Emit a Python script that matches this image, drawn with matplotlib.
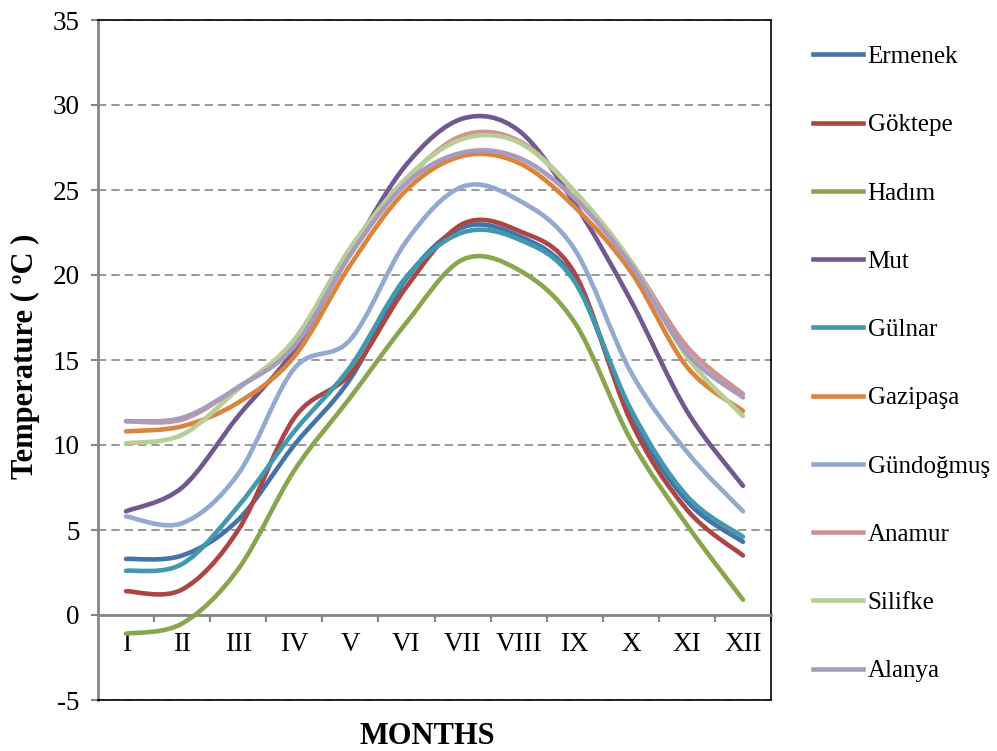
import matplotlib
matplotlib.use('Agg')
import matplotlib.pyplot as plt
from matplotlib.path import Path
from matplotlib.patches import PathPatch
from matplotlib.lines import Line2D
import numpy as np

plt.rcParams['font.family'] = ['Liberation Serif', 'DejaVu Serif']
plt.rcParams['axes.unicode_minus'] = False

meses = ['I', 'II', 'III', 'IV', 'V', 'VI', 'VII', 'VIII', 'IX', 'X', 'XI', 'XII']

ermenek   = [3.3, 3.5, 5.6, 10.0, 13.9, 19.8, 22.8, 22.3, 19.7, 11.8, 6.7, 4.3]
goktepe   = [1.4, 1.5, 5.0, 11.6, 14.2, 19.3, 23.0, 22.6, 20.1, 11.4, 6.2, 3.5]
hadim     = [-1.1, -0.5, 2.7, 8.5, 12.8, 17.2, 20.9, 20.3, 17.2, 10.3, 5.3, 0.9]
mut       = [6.1, 7.5, 11.7, 15.6, 21.3, 26.5, 29.2, 28.5, 24.2, 18.5, 12.0, 7.6]
gulnar    = [2.6, 3.0, 6.4, 10.8, 14.6, 19.9, 22.5, 22.1, 19.6, 12.1, 7.0, 4.6]
gazipasa  = [10.8, 11.1, 12.5, 15.2, 20.6, 25.0, 27.0, 26.6, 24.0, 20.2, 14.6, 12.0]
gundogmus = [5.8, 5.4, 8.3, 14.5, 16.2, 22.0, 25.2, 24.4, 21.5, 14.3, 9.6, 6.1]
anamur    = [11.4, 11.5, 13.4, 15.9, 21.4, 25.6, 28.2, 27.9, 24.9, 20.8, 15.8, 13.0]
silifke   = [10.1, 10.6, 13.3, 16.2, 21.6, 25.7, 28.0, 27.8, 24.9, 20.8, 15.2, 11.7]
alanya    = [11.4, 11.6, 13.4, 15.8, 21.2, 25.4, 27.2, 26.9, 24.5, 20.6, 15.4, 12.8]

estaciones = ['Ermenek', 'Göktepe', 'Hadım', 'Mut', 'Gülnar', 'Gazipaşa',
              'Gündoğmuş', 'Anamur', 'Silifke', 'Alanya']
series = [ermenek, goktepe, hadim, mut, gulnar, gazipasa, gundogmus, anamur, silifke, alanya]
colores = ['#4572A7', '#AA4643', '#89A54E', '#71588F', '#4198AF', '#DB843D',
           '#93A9CF', '#D19392', '#B9CD96', '#A99BBD']


def curva_suave(xs, ys):
    # linea suavizada tipo Excel: segmentos Bezier cubicos (Catmull-Rom)
    p = np.column_stack([xs, ys]).astype(float)
    q = np.vstack([p[0], p, p[-1]])
    verts = [p[0]]
    codes = [Path.MOVETO]
    for i in range(len(p) - 1):
        p0, p1, p2, p3 = q[i], q[i + 1], q[i + 2], q[i + 3]
        verts += [p1 + (p2 - p0) / 6, p2 - (p3 - p1) / 6, p2]
        codes += [Path.CURVE4] * 3
    return Path(verts, codes)


fig = plt.figure(figsize=(9.97, 7.51), dpi=100)
ax = fig.add_axes([98 / 997, 51 / 751, 673 / 997, 680 / 751])

x = np.arange(len(meses))
for datos, color in zip(series, colores):
    ax.add_patch(PathPatch(curva_suave(x, datos), fill=False, edgecolor=color,
                           lw=3.3, capstyle='round', joinstyle='round', zorder=3))

ax.set_xlim(-0.5, 11.5)
ax.set_ylim(-5, 35)

gris = '#868686'
ax.set_yticks(range(-5, 40, 5))
ax.yaxis.grid(True, linestyle=(0, (5, 3)), color=gris, lw=1.2)
ax.set_axisbelow(True)
ax.tick_params(axis='y', length=5, width=1.5, color=gris, labelsize=19.5, pad=8)

ax.set_xticks(np.arange(0.5, 11.6, 1))
ax.set_xticks(x, minor=True)
ax.set_xticklabels(meses, minor=True)
ax.tick_params(axis='x', which='major', length=5, width=1.5, color=gris, labelbottom=False)
ax.tick_params(axis='x', which='minor', length=0, labelsize=19.5, pad=12)

ax.spines['bottom'].set_position(('data', 0))
ax.spines['bottom'].set_color(gris)
ax.spines['bottom'].set_linewidth(2)
ax.spines['left'].set_color(gris)
ax.spines['left'].set_linewidth(2)
ax.spines['top'].set_color('black')
ax.spines['right'].set_color('black')
ax.spines['top'].set_linewidth(1.2)
ax.spines['right'].set_linewidth(1.2)
ax.axhline(-5, color='black', lw=1.2, zorder=4, clip_on=False)

fig.text(25 / 997, 1 - 356 / 751, 'Temperature ( ºC )', rotation=90, ha='center',
         va='center', fontsize=22, fontweight='bold')
fig.text(427 / 997, 1 - 737 / 751, 'MONTHS', ha='center', va='center',
         fontsize=22, fontweight='bold')

manijas = [Line2D([], [], color=c, lw=3.3) for c in colores]
fig.legend(manijas, estaciones, loc='upper left', bbox_to_anchor=(790 / 997, 1 - 23 / 751),
           frameon=False, fontsize=18, labelspacing=1.83, handlelength=2.0,
           handletextpad=0.2)

fig.savefig('out.png', dpi=100)
